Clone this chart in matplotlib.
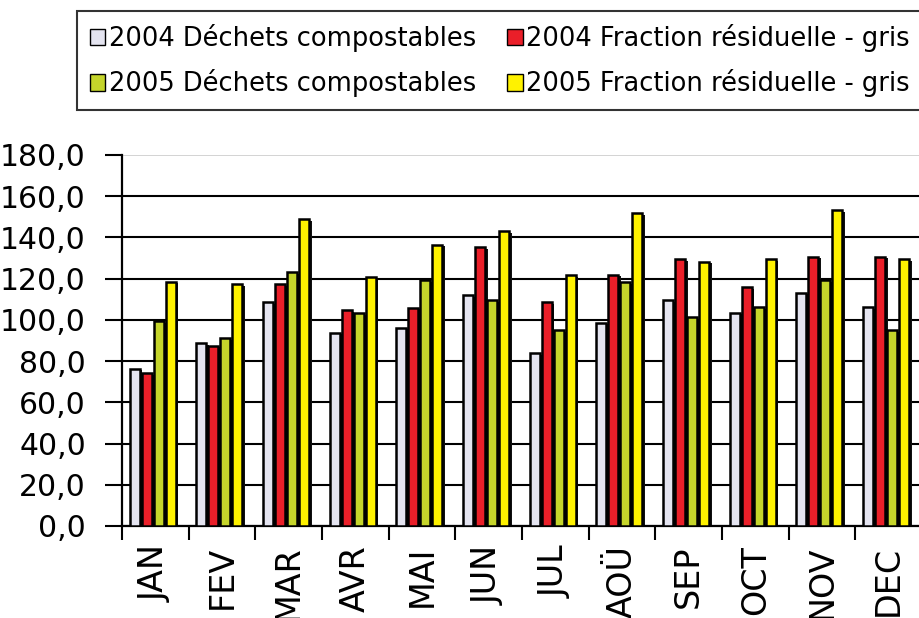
import matplotlib.pyplot as plt
import numpy as np
from matplotlib.ticker import FuncFormatter

# Months (as printed on the chart)
months = ["JAN", "FEV", "MAR", "AVR", "MAI", "JUN",
          "JUL", "AOÜ", "SEP", "OCT", "NOV", "DEC"]

# Values
compost_2004 = [76.3, 88.6, 108.5, 93.8, 96.2, 112.0,
                83.8, 98.6, 109.7, 103.5, 113.2, 106.1]
residuel_2004 = [74.0, 87.5, 117.3, 104.8, 105.9, 135.4,
                 108.5, 121.9, 129.4, 115.8, 130.7, 130.7]
compost_2005 = [99.5, 91.0, 123.0, 103.2, 119.4, 109.7,
                95.1, 118.2, 101.3, 106.1, 119.4, 95.1]
residuel_2005 = [118.5, 117.3, 149.0, 120.7, 136.5, 143.1,
                 121.8, 151.7, 128.3, 129.5, 153.2, 129.5]

series = [
    ("2004 Déchets compostables", compost_2004, "#e4e4f0"),
    ("2004 Fraction résiduelle - gris", residuel_2004, "#ea1f29"),
    ("2005 Déchets compostables", compost_2005, "#c5d52b"),
    ("2005 Fraction résiduelle - gris", residuel_2005, "#fff200"),
]

fig = plt.figure(figsize=(9.2, 6.18), dpi=100)
ax = fig.add_axes([0.1326, 0.1489, 0.8694, 0.6003])

x = np.arange(len(months))
pitch = 0.18
bar_w = 0.15
handles = []
for i, (label, vals, col) in enumerate(series):
    pos = x + (i - 1.5) * pitch - 0.04
    # dark drop shadow on the right of each bar
    ax.bar(pos + 0.04, np.array(vals) - 0.8, width=bar_w, color="#111111",
           zorder=2)
    b = ax.bar(pos, vals, width=bar_w, color=col, edgecolor="black",
               linewidth=1.8, zorder=3, label=label)
    handles.append(b)

# Axes styling
ax.set_xlim(-0.5, len(months) - 0.5)
ax.set_ylim(0, 180)
ax.set_yticks(np.arange(0, 181, 20))
ax.yaxis.set_major_formatter(FuncFormatter(lambda v, p: f"{v:.1f}".replace(".", ",")))
ax.yaxis.grid(True, color="black", linewidth=1.5, zorder=1)
ax.set_axisbelow(True)
ax.get_ygridlines()[-1].set_color("#cccccc")
ax.get_ygridlines()[-1].set_linewidth(1.2)

ax.set_xticks(x)
ax.set_xticklabels(months, rotation=90)
ax.set_xticks(np.arange(-0.5, len(months), 1), minor=True)
ax.tick_params(axis="x", which="major", length=0, pad=14, labelsize=24)
ax.tick_params(axis="x", which="minor", length=10, width=1.5, direction="out")
ax.tick_params(axis="y", length=12, width=1.5, direction="out", pad=14,
               labelsize=21.5)

for side in ["top", "right"]:
    ax.spines[side].set_visible(False)
for side in ["left", "bottom"]:
    ax.spines[side].set_linewidth(1.6)

# Legend box at the top, filled row by row (runs off the right edge)
order = [0, 2, 1, 3]
leg = fig.legend(handles=[handles[k] for k in order], ncol=2, loc="upper left",
                 bbox_to_anchor=(0.0837, 0.982), fontsize=18.5,
                 frameon=True, fancybox=False, edgecolor="black",
                 handlelength=0.6, handleheight=0.6, handletextpad=0.15,
                 columnspacing=1.2, labelspacing=0.68, borderpad=0.5,
                 borderaxespad=0.0)
leg.get_frame().set_linewidth(1.5)
for h in leg.legend_handles:
    h.set_linewidth(1.0)

fig.savefig("out.png", dpi=100)
